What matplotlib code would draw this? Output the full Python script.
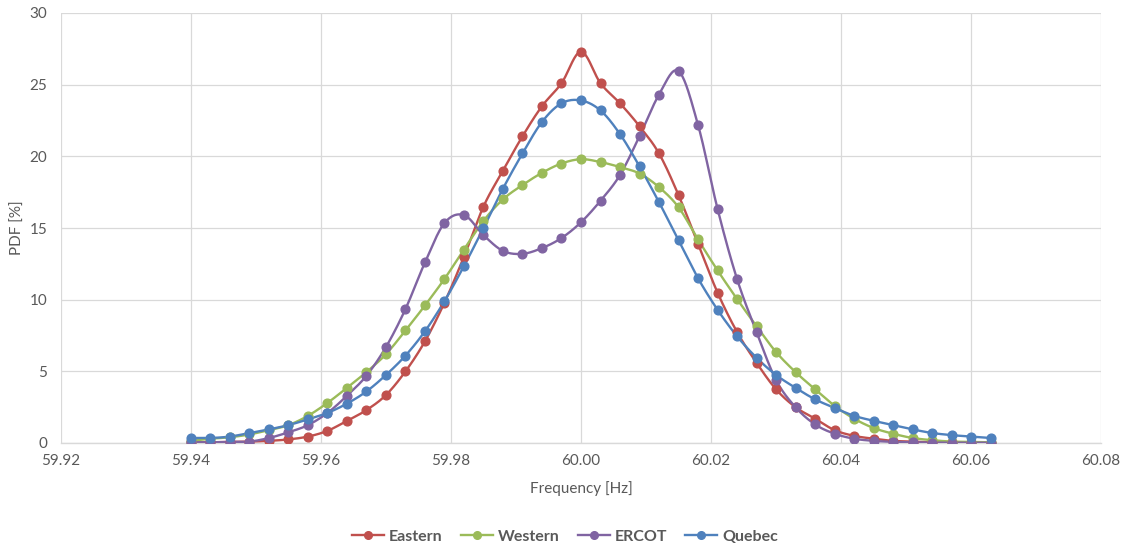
import numpy as np
import matplotlib
matplotlib.use("Agg")
import matplotlib.pyplot as plt

freq_start = 59.94
freq_step = 0.003
n_points = 42
frequency = [round(freq_start + freq_step * i, 3) for i in range(n_points)]

eastern = [0.05, 0.05, 0.08, 0.1, 0.15, 0.25, 0.45, 0.85, 1.55, 2.3, 3.35, 5.0, 7.1, 9.8,
           13.0, 16.5, 19.0, 21.4, 23.5, 25.1, 27.3, 25.1, 23.7, 22.1, 20.2, 17.3, 13.9,
           10.5, 7.75, 5.6, 3.75, 2.5, 1.7, 0.9, 0.5, 0.3, 0.15, 0.1, 0.05, 0.05, 0.03, 0.02]
western = [0.15, 0.3, 0.4, 0.6, 0.9, 1.25, 1.9, 2.8, 3.85, 4.95, 6.2, 7.85, 9.6, 11.45,
           13.5, 15.5, 17.0, 18.0, 18.85, 19.5, 19.8, 19.6, 19.25, 18.8, 17.85, 16.45, 14.2,
           12.05, 10.05, 8.15, 6.35, 4.95, 3.75, 2.6, 1.7, 1.05, 0.65, 0.35, 0.2, 0.1, 0.08, 0.05]
ercot = [0.05, 0.05, 0.08, 0.1, 0.35, 0.75, 1.25, 2.1, 3.3, 4.7, 6.7, 9.35, 12.6, 15.35,
         15.9, 14.5, 13.4, 13.2, 13.6, 14.3, 15.4, 16.9, 18.7, 21.4, 24.3, 25.95, 22.2,
         16.35, 11.45, 7.75, 4.4, 2.5, 1.3, 0.65, 0.3, 0.15, 0.08, 0.05, 0.03, 0.02, 0.02, 0.02]
quebec = [0.35, 0.35, 0.45, 0.7, 0.95, 1.25, 1.65, 2.1, 2.75, 3.6, 4.75, 6.1, 7.8, 9.9,
          12.35, 15.0, 17.75, 20.2, 22.4, 23.7, 23.9, 23.2, 21.55, 19.3, 16.8, 14.15, 11.5,
          9.3, 7.45, 5.95, 4.75, 3.85, 3.05, 2.45, 1.9, 1.55, 1.25, 0.95, 0.7, 0.55, 0.45, 0.35]

series_names = ["Eastern", "Western", "ERCOT", "Quebec"]
series_values = [eastern, western, ercot, quebec]
series_colors = ["#C0504D", "#9BBB59", "#8064A2", "#4F81BD"]

x_ticks = [59.92, 59.94, 59.96, 59.98, 60.00, 60.02, 60.04, 60.06, 60.08]
y_ticks = [0, 5, 10, 15, 20, 25, 30]


def smooth(x, y, n=20):
    """Excel-like smoothed line: cubic Bezier with Catmull-Rom control points."""
    x = np.asarray(x, float)
    y = np.asarray(y, float)
    xs, ys = [], []
    m = len(x)
    for i in range(m - 1):
        p0 = np.array([x[max(i - 1, 0)], y[max(i - 1, 0)]])
        p1 = np.array([x[i], y[i]])
        p2 = np.array([x[i + 1], y[i + 1]])
        p3 = np.array([x[min(i + 2, m - 1)], y[min(i + 2, m - 1)]])
        c1 = p1 + (p2 - p0) / 6.0
        c2 = p2 - (p3 - p1) / 6.0
        t = np.linspace(0, 1, n, endpoint=(i == m - 2))[:, None]
        pts = ((1 - t) ** 3) * p1 + 3 * ((1 - t) ** 2) * t * c1 + 3 * (1 - t) * t ** 2 * c2 + t ** 3 * p2
        xs.append(pts[:, 0])
        ys.append(pts[:, 1])
    return np.concatenate(xs), np.concatenate(ys)


plt.rcParams['font.family'] = ['Lato', 'DejaVu Sans']
text_color = "#595959"
grid_color = "#D9D9D9"

fig = plt.figure(figsize=(11.24, 5.5), dpi=100)
ax = fig.add_axes([61 / 1124, 1 - 443 / 550, 1040 / 1124, 430 / 550])

for name, vals, col in zip(series_names, series_values, series_colors):
    sx, sy = smooth(frequency, vals)
    ax.plot(sx, sy, color=col, linewidth=1.7, solid_capstyle='round', zorder=3)
    ax.plot(frequency, vals, linestyle='none', marker='o', markersize=6.3,
            color=col, zorder=4)
    ax.plot([], [], color=col, linewidth=1.7, marker='o', markersize=5.5, label=name)

ax.set_xlim(59.92, 60.08)
ax.set_ylim(0, 30)
ax.set_xticks(x_ticks)
ax.set_xticklabels([f"{v:.2f}" for v in x_ticks])
ax.set_yticks(y_ticks)
ax.grid(True, color=grid_color, linewidth=0.9, zorder=0)
ax.set_axisbelow(True)
for s in ["top", "right", "left"]:
    ax.spines[s].set_visible(False)
ax.spines["bottom"].set_color(grid_color)
ax.spines["bottom"].set_linewidth(1.0)
ax.tick_params(axis='both', length=0, colors=text_color, labelsize=11)
ax.tick_params(axis='x', pad=8)
ax.tick_params(axis='y', pad=10)

ax.set_xlabel("Frequency [Hz]", color=text_color, fontsize=11, labelpad=9)
ax.set_ylabel("PDF [%]", color=text_color, fontsize=11, labelpad=3)

leg = fig.legend(loc='center', bbox_to_anchor=(565 / 1124, 1 - 537 / 550), ncol=4,
                 frameon=False, fontsize=11.5, handlelength=2.0, columnspacing=1.15,
                 handletextpad=0.3)
for t in leg.get_texts():
    t.set_color(text_color)
    t.set_fontweight('bold')

fig.savefig("out.png", dpi=100)
